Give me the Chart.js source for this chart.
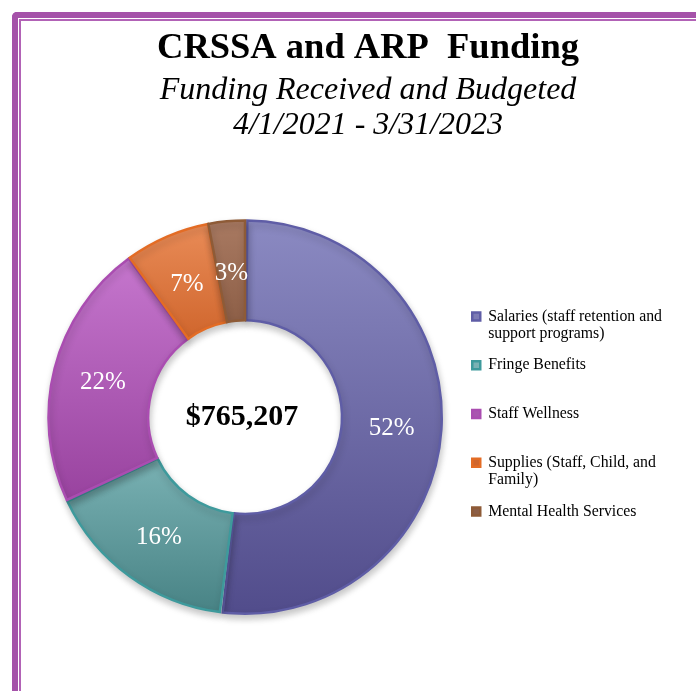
<!DOCTYPE html>
<html><head><meta charset="utf-8">
<script src="https://cdn.jsdelivr.net/npm/chart.js@4.4.1/dist/chart.umd.min.js"></script>
<style>
html,body{margin:0;padding:0;background:#fff;overflow:hidden;width:696px;height:691px;}
#wrap{position:absolute;left:0;top:0;width:736px;height:691px;}
.f1{position:absolute;left:12px;top:12px;width:900px;height:900px;border-left:6px solid #a552a9;border-top:6px solid #a552a9;border-top-left-radius:5px;box-sizing:border-box;}
.f2{position:absolute;left:19px;top:19px;width:900px;height:900px;border-left:2px solid #b262b6;border-top:2px solid #b262b6;box-sizing:border-box;}
</style></head>
<body>
<div id="wrap"><canvas id="c" width="736" height="691"></canvas></div>
<div class="f1"></div><div class="f2"></div>
<script>
// ---- data ----
const categories = [
  ['Salaries (staff retention and', 'support programs)'],
  ['Fringe Benefits', ''],
  ['Staff Wellness', ''],
  ['Supplies (Staff, Child, and', 'Family)'],
  ['Mental Health Services', '']
];
const percentValues = [52, 16, 22, 7, 3];
const totalFunding = '$765,207';
const titleText = 'CRSSA and ARP  Funding';
const subtitleLines = ['Funding Received and Budgeted', '4/1/2021 - 3/31/2023'];

// ---- styles ----
const lightColors = ['#8b8ac2', '#7ab2b4', '#c576cd', '#ea8d59', '#a97a62'];
const darkColors  = ['#514c8b', '#478284', '#98429e', '#d0662d', '#8c5e46'];
const gradStart   = [0.0, 0.6, 0.1, 0.0, 0.0];
const gradEnd     = [1.0, 1.0, 0.72, 0.3, 0.27];
const outlineColors = ['#5f5da6', '#3e9a9c', '#aa4db1', '#e36c25', '#8e5b37'];
const legendShiftY = 116;

const serif = "'Liberation Serif', 'Times New Roman', serif";

function sliceFill(ctx) {
  const chart = ctx.chart;
  const i = ctx.dataIndex;
  const area = chart.chartArea;
  if (!area || i === undefined) return lightColors[i || 0];
  const g = chart.ctx.createLinearGradient(0, area.top, 0, area.bottom);
  g.addColorStop(gradStart[i], lightColors[i]);
  g.addColorStop(gradEnd[i], darkColors[i]);
  return g;
}

const placePlugin = {
  id: 'placeBoxes',
  afterLayout(chart) {
    chart.boxes.forEach(b => {
      if (b.position === 'top' && b.options && b.options.text !== undefined) {
        b.left = 0; b.right = chart.width; b.width = chart.width;
      }
    });
    const lg = chart.legend;
    if (lg) { lg.top += legendShiftY; lg.bottom += legendShiftY; }
  }
};

const shadowPlugin = {
  id: 'softShadow',
  beforeDatasetsDraw(chart) {
    const ctx = chart.ctx;
    ctx.save();
    ctx.shadowColor = 'rgba(0,0,0,0.22)';
    ctx.shadowBlur = 7;
    ctx.shadowOffsetX = 1;
    ctx.shadowOffsetY = 4;
  },
  afterDatasetsDraw(chart) {
    chart.ctx.restore();
  }
};

const labelPlugin = {
  id: 'sliceLabels',
  afterDatasetsDraw(chart) {
    const ctx = chart.ctx;
    const meta = chart.getDatasetMeta(0);
    ctx.save();
    ctx.fillStyle = '#ffffff';
    ctx.font = '25px ' + serif;
    ctx.textAlign = 'center';
    ctx.textBaseline = 'middle';
    meta.data.forEach((arc, i) => {
      const p = arc.tooltipPosition();
      ctx.fillText(percentValues[i] + '%', p.x, p.y + 2);
    });
    const c = meta.data[0];
    ctx.fillStyle = '#000000';
    ctx.font = 'bold 30px ' + serif;
    ctx.fillText(totalFunding, c.x - 3, c.y);
    ctx.restore();
  }
};

new Chart(document.getElementById('c'), {
  type: 'doughnut',
  data: {
    labels: categories,
    datasets: [{
      data: percentValues,
      backgroundColor: sliceFill,
      borderColor: outlineColors,
      borderWidth: 2.5,
      spacing: 2,
      borderJoinStyle: 'miter'
    }]
  },
  options: {
    responsive: false,
    animation: false,
    cutout: '49%',
    layout: { padding: { top: 0, left: 32, right: 64, bottom: 76 } },
    plugins: {
      title: {
        display: true,
        text: titleText,
        color: '#000',
        font: { family: serif, size: 36.5, weight: 'bold', lineHeight: 1.2 },
        padding: { top: 27, bottom: 0 }
      },
      subtitle: {
        display: true,
        text: subtitleLines,
        color: '#000',
        font: { family: serif, size: 32, style: 'italic', lineHeight: 1.1 },
        padding: { top: 2, bottom: 76 }
      },
      legend: {
        position: 'right',
        align: 'center',
        labels: {
          color: '#000',
          font: { family: serif, size: 15.8, lineHeight: 1.1 },
          boxWidth: 8,
          boxHeight: 8,
          padding: 14
        }
      },
      tooltip: { enabled: false }
    }
  },
  plugins: [placePlugin, shadowPlugin, labelPlugin]
});
</script>
</body></html>
